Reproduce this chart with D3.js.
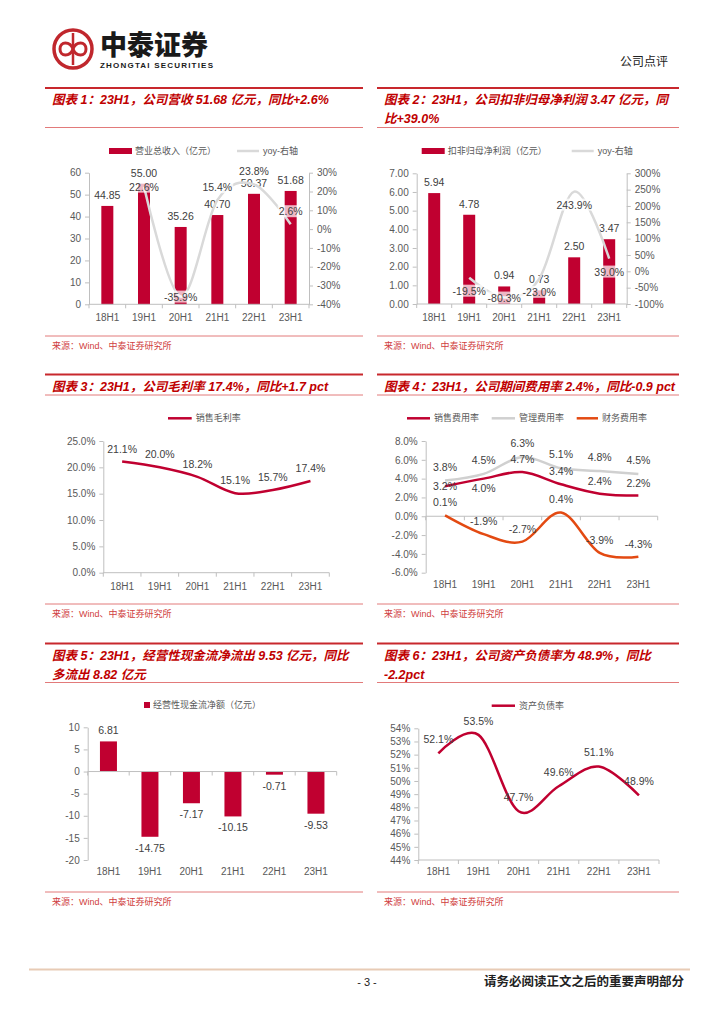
<!DOCTYPE html>
<html>
<head>
<meta charset="utf-8">
<script src="https://cdn.jsdelivr.net/npm/d3@7"></script>
<style>
body { margin: 0; background: #fff; }
svg { display: block; }
</style>
</head>
<body>
<div id="page"></div>
<script>
var cats = ["18H1", "19H1", "20H1", "21H1", "22H1", "23H1"];

// 图表1 营收
var revenue = [44.85, 55.00, 35.26, 40.70, 50.37, 51.68];
var revenueYoy = [null, 22.6, -35.9, 15.4, 23.8, 2.6];
var revenueYoyPos = ["", "c", "c", "a", "a", "a"];
var revenueTicks = [0, 10, 20, 30, 40, 50, 60];
var revenueYoyTicks = [-40, -30, -20, -10, 0, 10, 20, 30];

// 图表2 扣非归母净利润
var netProfit = [5.94, 4.78, 0.94, 0.73, 2.50, 3.47];
var netProfitYoy = [null, -19.5, -80.3, -23.0, 243.9, 39.0];
var netProfitYoyPos = ["", "b", "c", "b", "b", "b"];
var netProfitTicks = [0, 1, 2, 3, 4, 5, 6, 7];
var netProfitYoyTicks = [-100, -50, 0, 50, 100, 150, 200, 250, 300];

// 图表3 毛利率
var grossMargin = [21.1, 20.0, 18.2, 15.1, 15.7, 17.4];
var grossTicks = [0, 5, 10, 15, 20, 25];

// 图表4 费用率
var saleExp = [3.2, 4.0, 4.7, 3.4, 2.4, 2.2];
var saleExpPos = ["c", "b", "a", "a", "a", "a"];
var mgmtExp = [3.8, 4.5, 6.3, 5.1, 4.8, 4.5];
var finExp = [0.1, -1.9, -2.7, 0.4, -3.9, -4.3];
var expTicks = [-6, -4, -2, 0, 2, 4, 6, 8];

// 图表5 经营性现金流
var opCash = [6.81, -14.75, -7.17, -10.15, -0.71, -9.53];
var cashTicks = [-20, -15, -10, -5, 0, 5, 10];

// 图表6 资产负债率
var debtRatio = [52.1, 53.5, 47.7, 49.6, 51.1, 48.9];
var debtTicks = [44, 45, 46, 47, 48, 49, 50, 51, 52, 53, 54];

var FONT = '"Liberation Sans", Arial, "Noto Sans CJK SC", sans-serif';
var RED = "#c00030", GRAY = "#d9d9d9", ORANGE = "#e34a12";
var AXIS = "#bfbfbf", TXT = "#595959", LBL = "#404040";
var LINE_RED = "#c8282d", THIN_RED = "#e27a7a";

var svg = d3.select("#page").append("svg")
    .attr("width", 724).attr("height", 1024)
    .style("font-family", FONT);

// header: logo
var logo = svg.append("g").attr("fill", "none").attr("stroke", "#c0272d");
logo.append("circle").attr("cx", 73).attr("cy", 49).attr("r", 19).attr("stroke-width", 3.5);
logo.append("line").attr("x1", 73).attr("x2", 73).attr("y1", 33).attr("y2", 65).attr("stroke-width", 2.5);
logo.append("path").attr("stroke-width", 3)
    .attr("d", "M73,49 C70,41 60,41 60,49 C60,57 70,57 73,49 C76,41 86,41 86,49 C86,57 76,57 73,49");
svg.append("text").attr("x", 100).attr("y", 55)
    .style("font-family", '"Noto Sans CJK SC"').style("font-weight", 900)
    .style("font-size", "27px").attr("fill", "#1a1a1a").text("中泰证券");
svg.append("text").attr("x", 100).attr("y", 68).attr("textLength", 113)
    .style("font-weight", "bold").style("font-size", "8px").attr("fill", "#1a1a1a")
    .text("ZHONGTAI SECURITIES");
svg.append("text").attr("x", 668).attr("y", 66).attr("text-anchor", "end")
    .style("font-family", '"Noto Sans CJK SC"').style("font-size", "12px").attr("fill", "#222")
    .text("公司点评");

// footer
svg.append("line").attr("x1", 29).attr("x2", 690).attr("y1", 969.5).attr("y2", 969.5)
    .attr("stroke", "#e8cbb5").attr("stroke-width", 2);
svg.append("text").attr("x", 367).attr("y", 986).attr("text-anchor", "middle")
    .style("font-size", "11px").attr("fill", "#222").text("- 3 -");
svg.append("text").attr("x", 684).attr("y", 986).attr("text-anchor", "end")
    .style("font-family", '"Noto Sans CJK SC"').style("font-weight", "bold")
    .style("font-size", "12.5px").attr("fill", "#222").text("请务必阅读正文之后的重要声明部分");

// panel frames
function frame(x0, x1, top, titles, thinY, srcY) {
    svg.append("line").attr("x1", x0).attr("x2", x1).attr("y1", top).attr("y2", top)
        .attr("stroke", LINE_RED).attr("stroke-width", 2);
    titles.forEach(function (t, i) {
        svg.append("text").attr("x", x0 + 7).attr("y", top + 16 + i * 19)
            .style("font-size", "12.5px").style("font-weight", "bold").style("font-style", "italic")
            .attr("fill", "#c00000").text(t);
    });
    svg.append("line").attr("x1", x0).attr("x2", x1).attr("y1", thinY).attr("y2", thinY)
        .attr("stroke", THIN_RED).attr("stroke-width", 1);
    svg.append("line").attr("x1", x0).attr("x2", x1).attr("y1", srcY).attr("y2", srcY)
        .attr("stroke", THIN_RED).attr("stroke-width", 1);
    svg.append("text").attr("x", x0 + 7).attr("y", srcY + 13)
        .style("font-size", "9px").attr("fill", "#d04040").text("来源：Wind、中泰证券研究所");
}

frame(45, 363, 88, ["图表 1：23H1，公司营收 51.68 亿元，同比+2.6%"], 127.5, 336);
frame(377, 679, 88, ["图表 2：23H1，公司扣非归母净利润 3.47 亿元，同", "比+39.0%"], 127.5, 336);
frame(45, 363, 374.5, ["图表 3：23H1，公司毛利率 17.4%，同比+1.7 pct"], 395, 604);
frame(377, 679, 374.5, ["图表 4：23H1，公司期间费用率 2.4%，同比-0.9 pct"], 395, 604);
frame(45, 363, 643.5, ["图表 5：23H1，经营性现金流净流出 9.53 亿元，同比", "多流出 8.82 亿元"], 682.5, 892);
frame(377, 679, 643.5, ["图表 6：23H1，公司资产负债率为 48.9%，同比", "-2.2pct"], 682.5, 892);

// helpers
function xBand(a, b) {
    return d3.scaleBand().domain(cats).range([a, b]);
}
function cx(x, c) { return x(c) + x.bandwidth() / 2; }

function xAxis(x, axisY, labelY) {
    var g = svg.append("g");
    g.append("line").attr("x1", x.range()[0]).attr("x2", x.range()[1])
        .attr("y1", axisY).attr("y2", axisY).attr("stroke", AXIS);
    var edges = cats.map(function (c) { return x(c); }).concat([x.range()[1]]);
    g.selectAll(null).data(edges).enter().append("line")
        .attr("x1", function (d) { return d; }).attr("x2", function (d) { return d; })
        .attr("y1", axisY).attr("y2", axisY + 4).attr("stroke", AXIS);
    g.selectAll(null).data(cats).enter().append("text")
        .attr("x", function (d) { return cx(x, d); }).attr("y", labelY)
        .attr("text-anchor", "middle").attr("dominant-baseline", "central")
        .style("font-size", "10px").attr("fill", TXT).text(function (d) { return d; });
}

function yAxis(y, xPos, ticks, fmt, right) {
    var ax = (right ? d3.axisRight(y) : d3.axisLeft(y))
        .tickValues(ticks).tickFormat(fmt).tickSize(4).tickSizeOuter(0).tickPadding(4);
    var a = svg.append("g").attr("transform", "translate(" + xPos + ",0)").call(ax);
    a.select(".domain").attr("stroke", AXIS);
    a.selectAll(".tick line").attr("stroke", AXIS);
    a.selectAll(".tick text").attr("fill", TXT)
        .style("font-size", "10px").style("font-family", FONT);
}

function label(x, y, txt, bg) {
    var g = svg.append("g");
    var t = g.append("text").attr("x", x).attr("y", y)
        .attr("text-anchor", "middle").attr("dominant-baseline", "central")
        .style("font-size", "10.5px").attr("fill", LBL).text(txt);
    if (bg) {
        var b = t.node().getBBox();
        g.insert("rect", "text").attr("x", b.x - 1).attr("y", b.y)
            .attr("width", b.width + 2).attr("height", b.height)
            .attr("fill", "#fff").attr("fill-opacity", 0.72);
    }
}

function legendLine(x0, x1, y, color, txt) {
    svg.append("line").attr("x1", x0).attr("x2", x1).attr("y1", y).attr("y2", y)
        .attr("stroke", color).attr("stroke-width", 2.5);
    svg.append("text").attr("x", x1 + 4).attr("y", y).attr("dominant-baseline", "central")
        .style("font-size", "9px").attr("fill", TXT).text(txt);
}
function legendRect(x0, w, h, y, txt) {
    svg.append("rect").attr("x", x0).attr("y", y - h / 2).attr("width", w).attr("height", h).attr("fill", RED);
    svg.append("text").attr("x", x0 + w + 3).attr("y", y).attr("dominant-baseline", "central")
        .style("font-size", "9px").attr("fill", TXT).text(txt);
}

var smooth = d3.curveCardinal.tension(0);
// plain hyphen for negatives, as in the report
var pct1 = function (v) { return v.toFixed(1) + "%"; };
var fix2 = function (v) { return v.toFixed(2); };
var int0 = function (v) { return String(v); };
var posDy = { a: -13, b: 13, c: 0 };

function barYoyChart(o) {
    var x = xBand(o.x0, o.x1);
    var yL = d3.scaleLinear().domain(o.lDom).range([o.bottom, o.top]);
    var yR = d3.scaleLinear().domain(o.rDom).range([o.bottom, o.top]);
    legendRect(o.leg[0], 23, 6, o.legY, o.leg[1]);
    legendLine(o.leg[2], o.leg[2] + 22, o.legY, GRAY, "yoy-右轴");
    yAxis(yL, o.x0, o.lTicks, o.tickFmt, false);
    yAxis(yR, o.x1, o.rTicks, function (v) { return v + "%"; }, true);
    svg.append("g").selectAll("rect").data(o.vals).enter().append("rect")
        .attr("x", function (d, i) { return cx(x, cats[i]) - 6; })
        .attr("width", 12)
        .attr("y", function (d) { return yL(d); })
        .attr("height", function (d) { return yL(0) - yL(d); })
        .attr("fill", RED);
    xAxis(x, o.bottom, o.bottom + 13);
    o.vals.forEach(function (d, i) {
        label(cx(x, cats[i]), yL(d) - 11, fix2(d), false);
    });
    var pts = o.yoy.map(function (d, i) { return [d, i]; }).filter(function (p) { return p[0] !== null; });
    svg.append("path").datum(pts)
        .attr("d", d3.line().curve(smooth)
            .x(function (p) { return cx(x, cats[p[1]]); })
            .y(function (p) { return yR(p[0]); }))
        .attr("fill", "none").attr("stroke", GRAY).attr("stroke-width", 2.5);
    pts.forEach(function (p) {
        label(cx(x, cats[p[1]]), yR(p[0]) + posDy[o.yoyPos[p[1]]], pct1(p[0]), true);
    });
}

// 图表1
barYoyChart({
    x0: 89, x1: 309, top: 172.7, bottom: 304.3,
    lDom: [0, 60], rDom: [-40, 30], lTicks: revenueTicks, rTicks: revenueYoyTicks,
    tickFmt: int0, vals: revenue, yoy: revenueYoy, yoyPos: revenueYoyPos,
    legY: 151, leg: [109, "营业总收入（亿元）", 237]
});

// 图表2
barYoyChart({
    x0: 416.7, x1: 626.7, top: 173.3, bottom: 304,
    lDom: [0, 7], rDom: [-100, 300], lTicks: netProfitTicks, rTicks: netProfitYoyTicks,
    tickFmt: fix2, vals: netProfit, yoy: netProfitYoy, yoyPos: netProfitYoyPos,
    legY: 151, leg: [421.7, "扣非归母净利润（亿元）", 571.7]
});

// 图表3
(function () {
    var x = xBand(103.3, 329.3);
    var y = d3.scaleLinear().domain([0, 25]).range([572.7, 441]);
    legendLine(168, 191.7, 418.3, RED, "销售毛利率");
    yAxis(y, 103.3, grossTicks, pct1, false);
    xAxis(x, 572.7, 586);
    svg.append("path").datum(grossMargin)
        .attr("d", d3.line().curve(smooth)
            .x(function (d, i) { return cx(x, cats[i]); }).y(function (d) { return y(d); }))
        .attr("fill", "none").attr("stroke", RED).attr("stroke-width", 2.5);
    grossMargin.forEach(function (d, i) { label(cx(x, cats[i]), y(d) - 13, pct1(d), false); });
})();

// 图表4
(function () {
    var x = xBand(425.7, 657.7);
    var y = d3.scaleLinear().domain([-6, 8]).range([572.7, 441]);
    legendLine(407, 430, 418.3, RED, "销售费用率");
    legendLine(491.7, 515, 418.3, "#d0d0d0", "管理费用率");
    legendLine(576.7, 598, 418.3, ORANGE, "财务费用率");
    yAxis(y, 425.7, expTicks, pct1, false);
    xAxis(x, y(0), 584);
    var ln = d3.line().curve(smooth)
        .x(function (d, i) { return cx(x, cats[i]); }).y(function (d) { return y(d); });
    [[mgmtExp, "#d0d0d0"], [saleExp, RED], [finExp, ORANGE]].forEach(function (s) {
        svg.append("path").datum(s[0]).attr("d", ln)
            .attr("fill", "none").attr("stroke", s[1]).attr("stroke-width", 2.5);
    });
    mgmtExp.forEach(function (d, i) { label(cx(x, cats[i]), y(d) - 14, pct1(d), false); });
    saleExp.forEach(function (d, i) {
        var dy = saleExpPos[i] === "b" ? 9 : posDy[saleExpPos[i]];
        label(cx(x, cats[i]), y(d) + dy, pct1(d), false);
    });
    finExp.forEach(function (d, i) { label(cx(x, cats[i]), y(d) - 13, pct1(d), false); });
})();

// 图表5
(function () {
    var x = xBand(87.7, 336.7);
    var y = d3.scaleLinear().domain([-20, 10]).range([860, 727.3]);
    svg.append("rect").attr("x", 144).attr("y", 702).attr("width", 6).attr("height", 6).attr("fill", RED);
    svg.append("text").attr("x", 153).attr("y", 705).attr("dominant-baseline", "central")
        .style("font-size", "9px").attr("fill", TXT).text("经营性现金流净额（亿元）");
    yAxis(y, 87.7, cashTicks, int0, false);
    svg.append("g").selectAll("rect").data(opCash).enter().append("rect")
        .attr("x", function (d, i) { return cx(x, cats[i]) - 8.5; })
        .attr("width", 17)
        .attr("y", function (d) { return y(Math.max(0, d)); })
        .attr("height", function (d) { return Math.abs(y(d) - y(0)); })
        .attr("fill", RED);
    xAxis(x, y(0), 871.7);
    opCash.forEach(function (d, i) {
        label(cx(x, cats[i]), y(d) + (d >= 0 ? -11 : 11), fix2(d), false);
    });
})();

// 图表6
(function () {
    var x = xBand(418.3, 659);
    var y = d3.scaleLinear().domain([44, 54]).range([860, 728.3]);
    legendLine(491.7, 515, 705.7, RED, "资产负债率");
    yAxis(y, 418.3, debtTicks, function (v) { return v + "%"; }, false);
    xAxis(x, 860, 871.7);
    svg.append("path").datum(debtRatio)
        .attr("d", d3.line().curve(smooth)
            .x(function (d, i) { return cx(x, cats[i]); }).y(function (d) { return y(d); }))
        .attr("fill", "none").attr("stroke", RED).attr("stroke-width", 2.5);
    debtRatio.forEach(function (d, i) { label(cx(x, cats[i]), y(d) - 14, pct1(d), false); });
})();
</script>
</body>
</html>
